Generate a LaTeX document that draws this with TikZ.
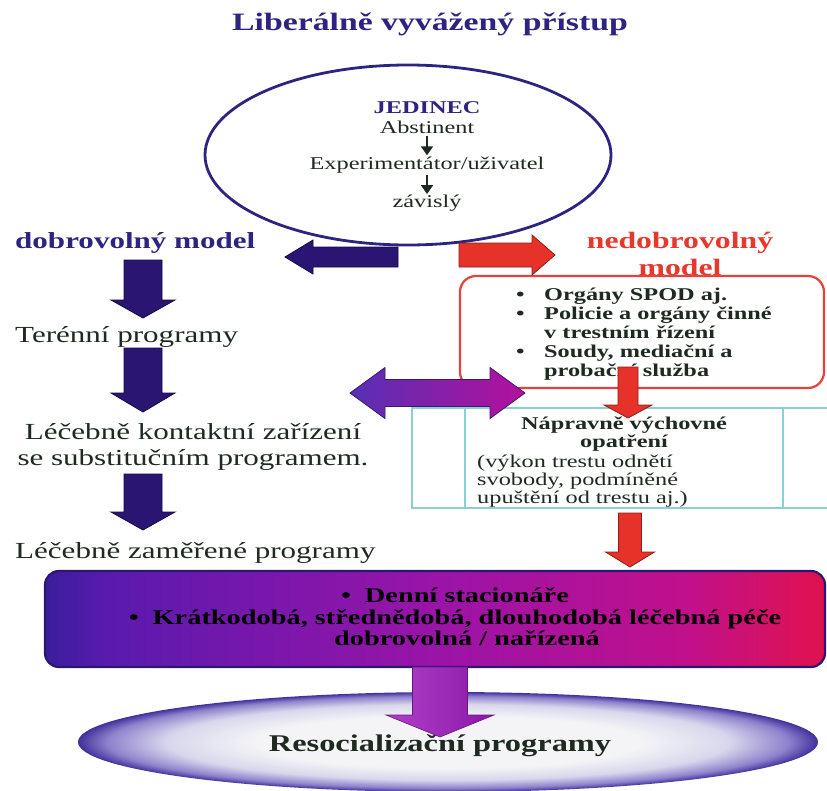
\documentclass[tikz,border=0pt]{standalone}
\usepackage{fontspec}
\setmainfont{Liberation Serif}[FakeStretch=1.35]
\usetikzlibrary{calc, positioning, shapes.geometric, arrows.meta}

\definecolor{titleblue}{HTML}{2C2480}
\definecolor{txtdark}{HTML}{1E2A1F}
\definecolor{arrnavy}{HTML}{2A1572}
\definecolor{arrnavyline}{HTML}{160848}
\definecolor{arrred}{HTML}{E63228}
\definecolor{arrredline}{HTML}{8A2018}
\definecolor{nedred}{HTML}{E8382C}
\definecolor{boxred}{HTML}{E8403A}
\definecolor{tealline}{HTML}{8CCFD0}
\definecolor{dblL}{HTML}{5630B4}
\definecolor{dblR}{HTML}{B4109C}
\definecolor{dblline}{HTML}{3A1A70}
\definecolor{purpL}{HTML}{B040C8}
\definecolor{purpR}{HTML}{8A18A8}
\definecolor{purpline}{HTML}{6A1488}
\definecolor{lecA}{HTML}{3A1E9C}
\definecolor{lecB}{HTML}{5A1AAE}
\definecolor{lecC}{HTML}{9A14A8}
\definecolor{lecD}{HTML}{C0108C}
\definecolor{lecE}{HTML}{E0124E}
\definecolor{lecline}{HTML}{2A1870}
\definecolor{resA}{HTML}{F4F4F6}
\definecolor{resB}{HTML}{D8D6EC}
\definecolor{resC}{HTML}{8E82CC}
\definecolor{resD}{HTML}{42309C}

% shadings for the big box and the bottom ellipse
\pgfdeclarehorizontalshading{lecshade}{100bp}{color(0bp)=(lecA); color(25bp)=(lecA); color(29bp)=(lecB); color(50bp)=(lecC); color(66bp)=(lecD); color(75bp)=(lecE); color(100bp)=(lecE)}
\pgfdeclareradialshading{resshade}{\pgfpoint{0bp}{0bp}}{color(0bp)=(resA); color(13bp)=(resA); color(19bp)=(resB); color(23bp)=(resC); color(25bp)=(resD); color(50bp)=(resD)}

\tikzset{
fat body/.store in=\fatbody, % half width of the shaft
fat head/.store in=\fathead, % half width of the head
fat len/.store in=\fatlen, % length of the head
fat body=10pt, fat head=18pt, fat len=20pt,
fatarrow/.style={to path={
  ($(\tikztostart)!\fatbody!90:(\tikztotarget)$)
  -- ($(\tikztotarget)!\fatlen!(\tikztostart)!\fatbody!-90:(\tikztostart)$)
  -- ($(\tikztotarget)!\fatlen!(\tikztostart)!\fathead!-90:(\tikztostart)$)
  -- (\tikztotarget)
  -- ($(\tikztotarget)!\fatlen!(\tikztostart)!\fathead!90:(\tikztostart)$)
  -- ($(\tikztotarget)!\fatlen!(\tikztostart)!\fatbody!90:(\tikztostart)$)
  -- ($(\tikztostart)!\fatbody!-90:(\tikztotarget)$)
  -- cycle}},
fatdouble/.style={to path={
  ($(\tikztostart)!\fatlen!(\tikztotarget)!\fatbody!90:(\tikztotarget)$)
  -- ($(\tikztotarget)!\fatlen!(\tikztostart)!\fatbody!-90:(\tikztostart)$)
  -- ($(\tikztotarget)!\fatlen!(\tikztostart)!\fathead!-90:(\tikztostart)$)
  -- (\tikztotarget)
  -- ($(\tikztotarget)!\fatlen!(\tikztostart)!\fathead!90:(\tikztostart)$)
  -- ($(\tikztotarget)!\fatlen!(\tikztostart)!\fatbody!90:(\tikztostart)$)
  -- ($(\tikztostart)!\fatlen!(\tikztotarget)!\fatbody!-90:(\tikztotarget)$)
  -- ($(\tikztostart)!\fatlen!(\tikztotarget)!\fathead!-90:(\tikztotarget)$)
  -- (\tikztostart)
  -- ($(\tikztostart)!\fatlen!(\tikztotarget)!\fathead!90:(\tikztotarget)$)
  -- cycle}},
bluearrow/.style={fill=arrnavy, draw=arrnavyline, line width=0.8pt},
redarrow/.style={fill=arrred, draw=arrredline, line width=0.8pt},
smallarr/.style={-{Stealth[length=9pt, width=12pt, inset=0pt]}, line width=1.8pt, draw=txtdark, fill=txtdark, shorten <=1pt},
titletxt/.style={font=\fontsize{25}{28}\selectfont\bfseries, text=titleblue, inner sep=0pt},
jedbox/.style={ellipse, draw=titleblue, line width=2.8pt, minimum width=406pt, minimum height=180pt},
jedhead/.style={font=\fontsize{18}{20}\selectfont\bfseries, text=titleblue, inner sep=1pt},
jeditem/.style={font=\fontsize{18}{20}\selectfont, text=txtdark, inner sep=1pt},
dobrotxt/.style={font=\fontsize{23}{26}\selectfont\bfseries, text=titleblue, inner sep=0pt},
coltxt/.style={font=\fontsize{23}{26}\selectfont, text=txtdark, inner sep=0pt},
nedobtxt/.style={font=\fontsize{23.5}{27}\selectfont\bfseries, text=nedred, align=center, inner sep=0pt},
orgbox/.style={draw=boxred, line width=2.2pt, rounded corners=16pt, minimum width=364pt, minimum height=112pt},
boxtxt/.style={font=\fontsize{18}{19}\selectfont\bfseries, text=txtdark, align=left, inner sep=0pt},
tealband/.style={draw=tealline, line width=2.6pt},
naprcell/.style={tealband, minimum width=318pt, minimum height=100pt},
naprhead/.style={font=\fontsize{18}{18}\selectfont\bfseries, text=txtdark, align=center, inner sep=0pt},
naprtxt/.style={font=\fontsize{18}{18}\selectfont, text=txtdark, align=left, inner sep=0pt},
lecbox/.style={draw=lecline, line width=2.2pt, rounded corners=14pt, shade, shading=lecshade, minimum width=780pt, minimum height=96pt},
lectxt/.style={font=\fontsize{21}{21.5}\selectfont\bfseries, text=black, align=center, inner sep=0pt},
resbox/.style={ellipse, shade, shading=resshade, minimum width=740pt, minimum height=100pt},
restxt/.style={font=\fontsize{24}{26}\selectfont\bfseries, text=txtdark, inner sep=0pt},
}

\begin{document}
\begin{tikzpicture}[x=1pt, y=-1pt]
\useasboundingbox (0,0) rectangle (827,790);

% Title
\node[titletxt] (title) at (430,24) {Liberálně vyvážený přístup};

% Jedinec
\node[jedbox] (jed) at (408,155) {};
\node[jedhead] (jedinec) at (427,108) {JEDINEC};
\node[jeditem, below=5pt of jedinec] (abst) {Abstinent};
\node[jeditem, below=20pt of abst] (exper) {Experimentátor/uživatel};
\node[jeditem, below=20pt of exper] (zavis) {závislý};
\draw[smallarr] (abst) -- (exper);
\draw[smallarr] (exper) -- (zavis);

% Voluntary column
\node[dobrotxt, anchor=west] (dobro) at (15,243) {dobrovolný model};
\node[coltxt, anchor=west] (teren) at (15,337) {Terénní programy};
\node[coltxt, align=center] (kontakt) at (193,447) {Léčebně kontaktní zařízení\\se substitučním programem.};
\node[coltxt, anchor=west] (zamer) at (15,553) {Léčebně zaměřené programy};

% Involuntary column
\node[nedobtxt] (nedob) at (680,254) {nedobrovolný\\model};
\node[orgbox] (org) at (642,332) {};
\node[boxtxt, anchor=north west] (orglist) at (516,288) {%
\makebox[28pt][l]{\textbullet}Orgány SPOD aj.\\
\makebox[28pt][l]{\textbullet}Policie a orgány činné\\
\hspace*{28pt}v trestním řízení\\
\makebox[28pt][l]{\textbullet}Soudy, mediační a\\
\hspace*{28pt}probační služba};

\draw[tealband] (412,408) rectangle (845,508);
\node[naprcell] (napr) at (624,458) {};
\node[naprhead] (naprh) at (624,434) {Nápravně výchovné\\opatření};
\node[naprtxt, anchor=north west] (naprt) at (477,455) {(výkon trestu odnětí\\svobody, podmíněné\\upuštění od trestu aj.)};

% Treatment box
\node[lecbox] (lec) at (435,619) {};
\node[lectxt] (lect) at (455,617) {\textbullet\hspace{14pt}Denní stacionáře\\
\textbullet\hspace{14pt}Krátkodobá, střednědobá, dlouhodobá léčebná péče\\
\hspace*{24pt}dobrovolná / nařízená};

% Resocialisation
\node[resbox] (res) at (448,742) {};
\node[restxt] (rest) at (440,746) {Resocializační programy};

% Arrow ends
\coordinate (bl-from) at (398,257);
\coordinate (bl-to) at (285,257);
\coordinate (rd-from) at (459,255);
\coordinate (rd-to) at (555,255);
\coordinate (c1-from) at (143,260);
\coordinate (c1-to) at (143,318);
\coordinate (c2-from) at (143,348);
\coordinate (c2-to) at (143,412);
\coordinate (c3-from) at (143,474);
\coordinate (c3-to) at (143,530);
\coordinate (dbl-l) at (350,393);
\coordinate (dbl-r) at (525,393);
\coordinate (r1-from) at (628,367);
\coordinate (r1-to) at (628,418);
\coordinate (r2-from) at (630,513);
\coordinate (r2-to) at (630,567);
\coordinate (p-from) at (440,667);
\coordinate (p-to) at (440,737);

% Fat arrows
\path[bluearrow, fat body=10pt, fat head=17pt, fat len=28pt] (bl-from) to[fatarrow] (bl-to);
\path[redarrow, fat body=12pt, fat head=20pt, fat len=23pt] (rd-from) to[fatarrow] (rd-to);
\path[bluearrow, fat body=19pt, fat head=32pt, fat len=18pt] (c1-from) to[fatarrow] (c1-to);
\path[bluearrow, fat body=19pt, fat head=32pt, fat len=19pt] (c2-from) to[fatarrow] (c2-to);
\path[bluearrow, fat body=19pt, fat head=32pt, fat len=18pt] (c3-from) to[fatarrow] (c3-to);
\path[left color=dblL, right color=dblR, draw=dblline, line width=0.8pt, fat body=13.5pt, fat head=25.5pt, fat len=35pt] (dbl-l) to[fatdouble] (dbl-r);
\path[redarrow, fat body=10pt, fat head=24pt, fat len=13pt] (r1-from) to[fatarrow] (r1-to);
\path[redarrow, fat body=11.5pt, fat head=24.5pt, fat len=15pt] (r2-from) to[fatarrow] (r2-to);
\path[left color=purpL, right color=purpR, draw=purpline, line width=0.6pt, fat body=27.5pt, fat head=54pt, fat len=22pt] (p-from) to[fatarrow] (p-to);
\end{tikzpicture}
\end{document}
